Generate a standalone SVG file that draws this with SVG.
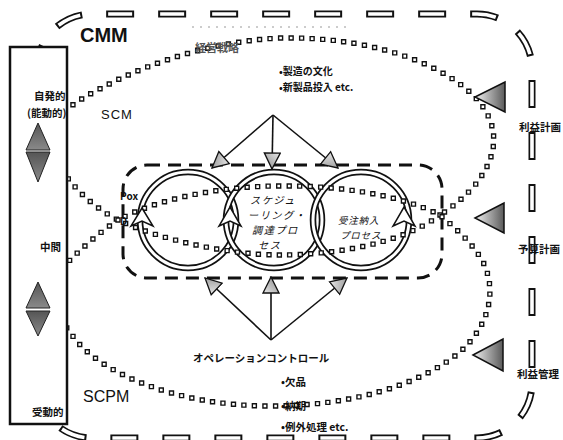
<svg xmlns="http://www.w3.org/2000/svg" width="563" height="440" viewBox="0 0 563 440">
<style>
.jp{font-family:"Noto Sans CJK JP","Noto Sans",sans-serif;font-weight:bold;fill:#111}
.en{font-family:"Liberation Sans",Arial,sans-serif;fill:#111}
.dotb{fill:none;stroke:#111;stroke-width:5.4;stroke-dasharray:0 10.5;stroke-linecap:square}
.dotw{fill:none;stroke:#fff;stroke-width:2.6;stroke-dasharray:0 10.5;stroke-linecap:square}
.ringb{fill:none;stroke:#111;stroke-width:6.5}
.ringw{fill:none;stroke:#fff;stroke-width:3}
.conn{stroke:#111;stroke-width:1.6;fill:none}
.idash{fill:none;stroke:#111;stroke-width:3;stroke-dasharray:13 8}
.pl{font-weight:normal;font-style:italic}
</style>
<defs>
<linearGradient id="gh" x1="0" y1="0" x2="1" y2="0"><stop offset="0" stop-color="#f2f2f2"/><stop offset="1" stop-color="#5a5a5a"/></linearGradient>
<linearGradient id="gv" x1="0" y1="0" x2="0" y2="1"><stop offset="0" stop-color="#555"/><stop offset="1" stop-color="#8a8a8a"/></linearGradient>
<linearGradient id="ga" x1="0" y1="0" x2="1" y2="1"><stop offset="0" stop-color="#e8e8e8"/><stop offset="1" stop-color="#888"/></linearGradient>
<marker id="ah" viewBox="0 0 18 18" markerUnits="userSpaceOnUse" markerWidth="18" markerHeight="18" refX="17" refY="9" orient="auto">
<path d="M1,1 L17,9 L1,17 Z" fill="url(#ga)" stroke="#111" stroke-width="1.3"/>
</marker>
</defs>
<rect width="563" height="440" fill="#fff"/>

<g id="cmm-boundary">
<path d="M37,200 V69 A55 55 0 0 1 92,14 H477 A55 55 0 0 1 532,69 V383 A55 55 0 0 1 477,438 H92 A55 55 0 0 1 37,383 Z" fill="none" stroke="#111" stroke-width="7" stroke-dasharray="28 24" stroke-dashoffset="28.6"/>
<path d="M37,200 V69 A55 55 0 0 1 92,14 H477 A55 55 0 0 1 532,69 V383 A55 55 0 0 1 477,438 H92 A55 55 0 0 1 37,383 Z" fill="none" stroke="#fff" stroke-width="3.6" stroke-dasharray="24 28" stroke-dashoffset="26.6"/>
<text class="en" x="80" y="42" font-size="20" font-weight="bold">CMM</text>
</g>

<path d="M192,27 H352" stroke="#999" stroke-width="1" stroke-dasharray="2 6"/>

<g id="inner-process-box">
<rect x="123" y="165" width="319" height="113" rx="24" class="idash"/>
</g>

<g id="circle-left">
<circle cx="188" cy="220" r="48" class="ringb"/>
<circle cx="188" cy="220" r="48" class="ringw"/>
</g>
<g id="circle-middle">
<circle cx="274" cy="220" r="48" class="ringb"/>
<circle cx="274" cy="220" r="48" class="ringw"/>
</g>
<g id="circle-right">
<circle cx="361" cy="220" r="48" class="ringb"/>
<circle cx="361" cy="220" r="48" class="ringw"/>
</g>

<g id="scm-loop">
<path class="dotb" d="M440,215 C400,245 330,255 280,255 C230,255 160,240 118,220 C95,208 75,190 62,170 C45,140 55,115 80,100 C130,70 200,42 280,38 C380,36 460,70 485,110 C500,135 495,160 475,185 C462,200 452,207 440,215 Z"/>
<path class="dotw" d="M440,215 C400,245 330,255 280,255 C230,255 160,240 118,220 C95,208 75,190 62,170 C45,140 55,115 80,100 C130,70 200,42 280,38 C380,36 460,70 485,110 C500,135 495,160 475,185 C462,200 452,207 440,215 Z"/>
<text class="en" x="101" y="119" font-size="13" letter-spacing="1">SCM</text>
</g>

<g id="scpm-loop">
<path class="dotb" d="M118,220 C100,232 82,248 68,262 C50,285 52,310 72,335 C100,375 180,405 265,406 C350,407 420,385 460,352 C490,325 497,290 483,262 C472,242 455,228 440,215 C400,195 340,185 275,186 C215,187 155,200 118,220 Z"/>
<path class="dotw" d="M118,220 C100,232 82,248 68,262 C50,285 52,310 72,335 C100,375 180,405 265,406 C350,407 420,385 460,352 C490,325 497,290 483,262 C472,242 455,228 440,215 C400,195 340,185 275,186 C215,187 155,200 118,220 Z"/>
<text class="en" x="83" y="402" font-size="16">SCPM</text>
</g>

<g id="cycle-arrows" fill="#fff" stroke="#111" stroke-width="1.5">
<path d="M142,208 L153,226 L142,221 L131,226 Z"/>
<path d="M230,207 L241,226 L230,221 L219,226 Z"/>
<path d="M404,207 L415,226 L404,221 L393,226 Z"/>
</g>

<g id="connectors">
<path class="conn" d="M273,115 L212,168" marker-end="url(#ah)"/>
<path class="conn" d="M273,115 L272,169" marker-end="url(#ah)"/>
<path class="conn" d="M273,115 L338,168" marker-end="url(#ah)"/>
<path class="conn" d="M271,340 L205,278" marker-end="url(#ah)"/>
<path class="conn" d="M271,340 L271,277" marker-end="url(#ah)"/>
<path class="conn" d="M271,340 L347,278" marker-end="url(#ah)"/>
</g>

<g id="scm-label">
<text class="jp" x="195" y="52" font-size="11" style="fill:#555">経営戦略</text>
<text class="jp" x="279" y="75" font-size="10">•製造の文化</text>
<text class="jp" x="279" y="91" font-size="10">•新製品投入 etc.</text>
</g>

<g id="process-labels">
<text class="jp" x="120" y="200" font-size="10" font-weight="normal">Pox</text>
<text class="jp" x="120" y="225" font-size="10" font-weight="normal">D</text>
<text class="jp pl" font-size="10.2" letter-spacing="1.5"><tspan x="250" y="204">スケジュ</tspan><tspan x="248" y="219">ーリング・</tspan><tspan x="252" y="234">調達プロ</tspan><tspan x="258" y="249">セス</tspan></text>
<text class="jp pl" font-size="9.5" letter-spacing="0.8"><tspan x="338" y="224">受注納入</tspan><tspan x="340" y="239">プロセス</tspan></text>
</g>

<g id="operation-control">
<text class="jp" x="193" y="362" font-size="10.5">オペレーションコントロール</text>
<text class="jp" x="281" y="386" font-size="10.5">•欠品</text>
<text class="jp" x="281" y="410" font-size="10.5">•納期</text>
<text class="jp" x="281" y="431" font-size="10.5">•例外処理 etc.</text>
</g>

<g id="right-indicators">
<polygon points="475,97 505,82 505,112" fill="url(#gh)" stroke="#111" stroke-width="1.5"/>
<polygon points="475,218 504,203 504,233" fill="url(#gh)" stroke="#111" stroke-width="1.5"/>
<polygon points="473,355 503,339 503,371" fill="url(#gh)" stroke="#111" stroke-width="1.5"/>
<text class="jp" x="519" y="131" font-size="10.5">利益計画</text>
<text class="jp" x="518" y="253" font-size="10.5">予算計画</text>
<text class="jp" x="517" y="378" font-size="10.5">利益管理</text>
</g>

<g id="left-axis">
<rect x="10" y="47" width="57" height="377" fill="#fff" stroke="#111" stroke-width="2.5"/>
<text class="jp" x="34" y="100" font-size="10.5">自発的</text>
<text class="jp" x="27" y="117" font-size="10.5">(能動的)</text>
<polygon points="38,123 26,150 50,150" fill="url(#gv)" stroke="#222" stroke-width="1"/>
<polygon points="26,152 50,152 38,182" fill="url(#gv)" stroke="#222" stroke-width="1"/>
<text class="jp" x="40" y="251" font-size="10.5">中間</text>
<polygon points="38,282 26,308 50,308" fill="url(#gv)" stroke="#222" stroke-width="1"/>
<polygon points="26,311 50,311 38,336" fill="url(#gv)" stroke="#222" stroke-width="1"/>
<text class="jp" x="32" y="416" font-size="10.5">受動的</text>
</g>
</svg>
